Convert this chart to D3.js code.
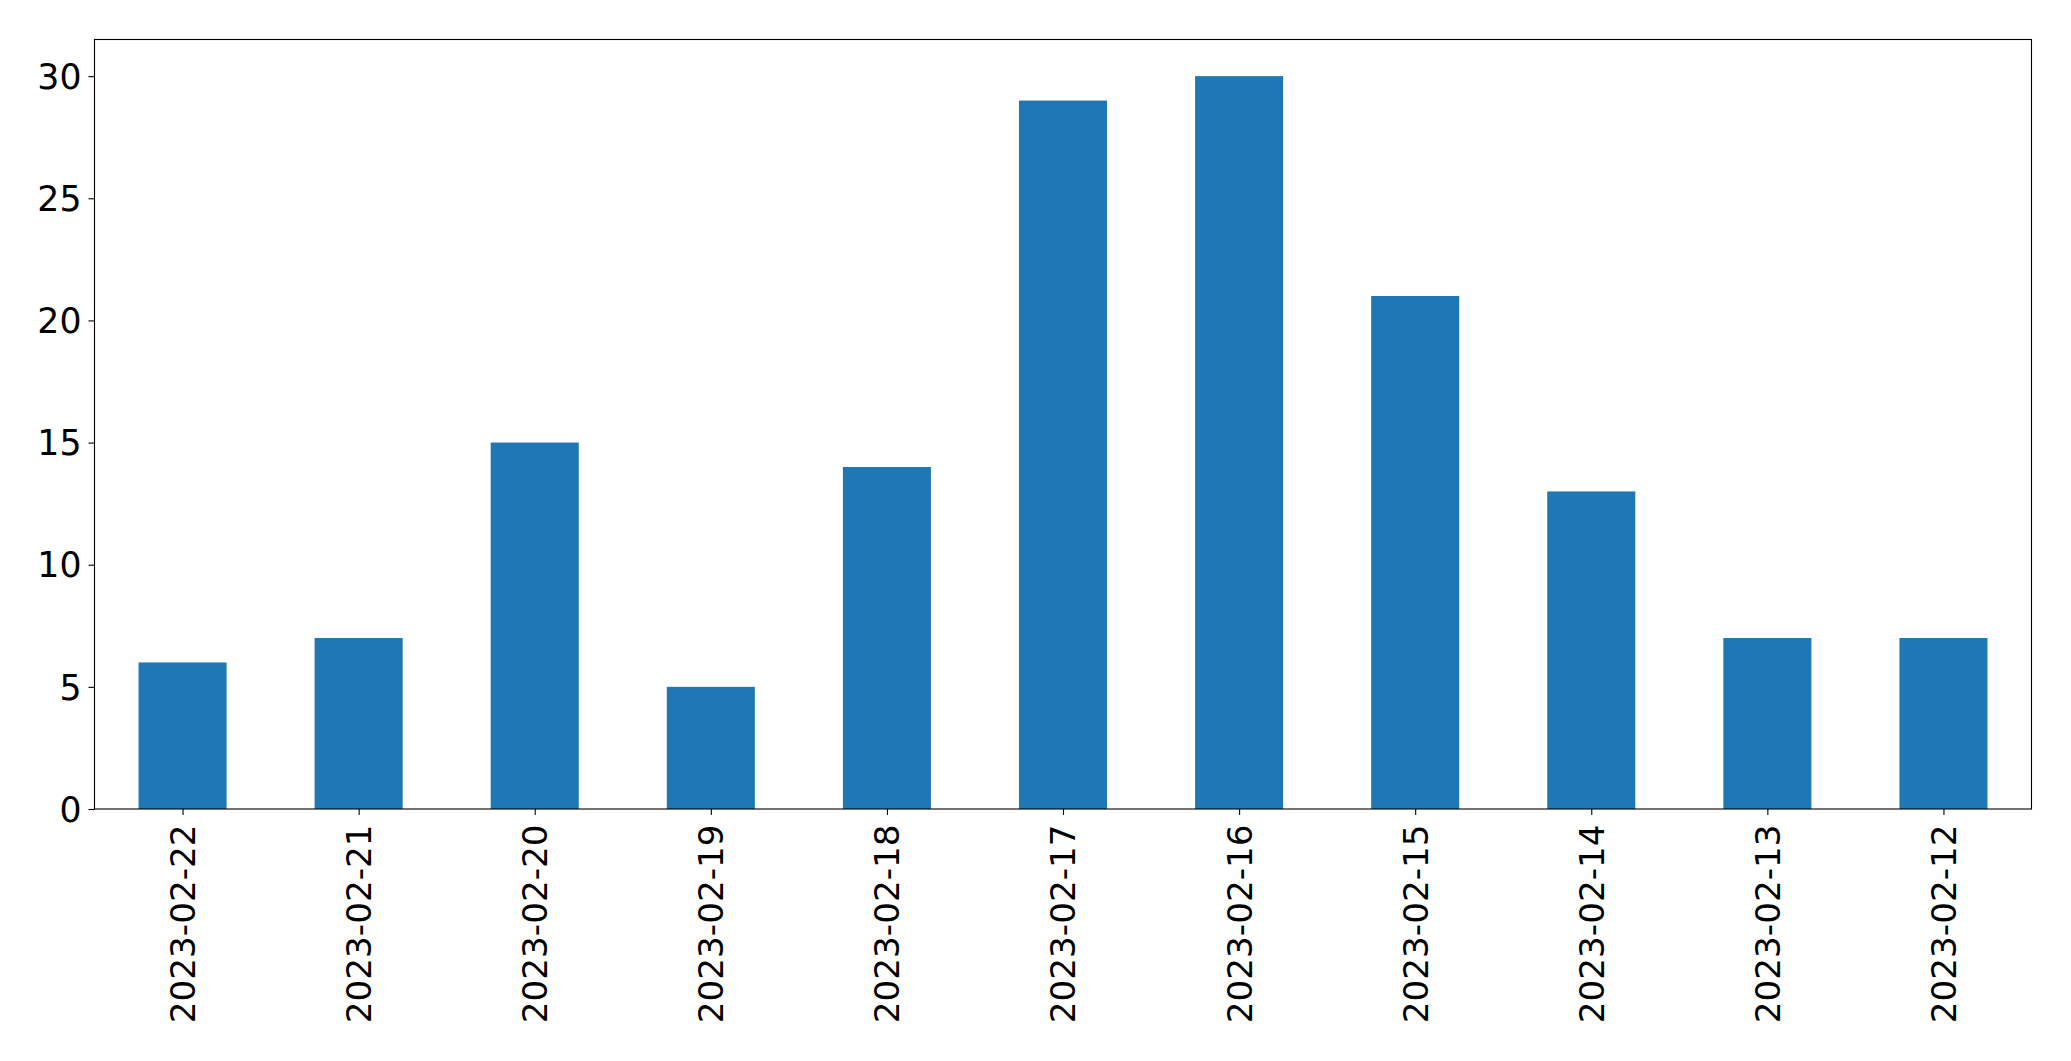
<!DOCTYPE html>
<html><head><meta charset="utf-8">
<script src="https://cdn.jsdelivr.net/npm/d3@7"></script>
<style>html,body{margin:0;padding:0;background:#fff;}svg{display:block;}</style>
</head><body>
<svg id="chart" width="2071" height="1061"></svg>
<script>
const categories = ["2023-02-22","2023-02-21","2023-02-20","2023-02-19","2023-02-18","2023-02-17","2023-02-16","2023-02-15","2023-02-14","2023-02-13","2023-02-12"];
const values = [6,7,15,5,14,29,30,21,13,7,7];
const yTicks = [0,5,10,15,20,25,30];

const svg = d3.select("#chart");
const L = 94.5, R = 2031.5, T = 39.5, B = 809;
const x = d3.scaleLinear().domain([-0.5, categories.length - 0.5]).range([L, R]);
const y = d3.scaleLinear().domain([0, 31.5]).range([B, T]);
const font = "DejaVu Sans";
const fs = 34.7;
const fsx = 34.2;

svg.append("g").selectAll("rect").data(values).join("rect")
  .attr("x", (d,i) => x(i - 0.25))
  .attr("width", (d,i) => x(i + 0.25) - x(i - 0.25))
  .attr("y", d => y(d))
  .attr("height", d => y(0) - y(d))
  .attr("fill", "#1f77b4");

const yAxis = svg.append("g").attr("transform", `translate(${L},0)`)
  .call(d3.axisLeft(y).tickValues(yTicks).tickSize(6).tickPadding(7).tickFormat(d3.format("d")));
yAxis.select(".domain").remove();
yAxis.selectAll("line").attr("stroke", "#000").attr("stroke-width", 1.1);
yAxis.selectAll("text").attr("font-family", font).attr("font-size", fs).attr("fill", "#000").attr("dy", "0.35em");

const xAxis = svg.append("g").attr("transform", `translate(0,${B})`)
  .call(d3.axisBottom(x).tickValues(d3.range(categories.length)).tickSize(6).tickFormat(i => categories[i]));
xAxis.select(".domain").remove();
xAxis.selectAll("line").attr("stroke", "#000").attr("stroke-width", 1.1);
xAxis.selectAll("text")
  .attr("font-family", font).attr("font-size", fsx).attr("fill", "#000")
  .attr("transform", "rotate(-90)")
  .attr("text-anchor", "end")
  .attr("x", -15.5).attr("y", 0).attr("dy", "0.35em");

svg.append("rect").attr("x", L).attr("y", T).attr("width", R - L).attr("height", B - T)
  .attr("fill", "none").attr("stroke", "#000").attr("stroke-width", 1.1);
</script>
</body></html>
